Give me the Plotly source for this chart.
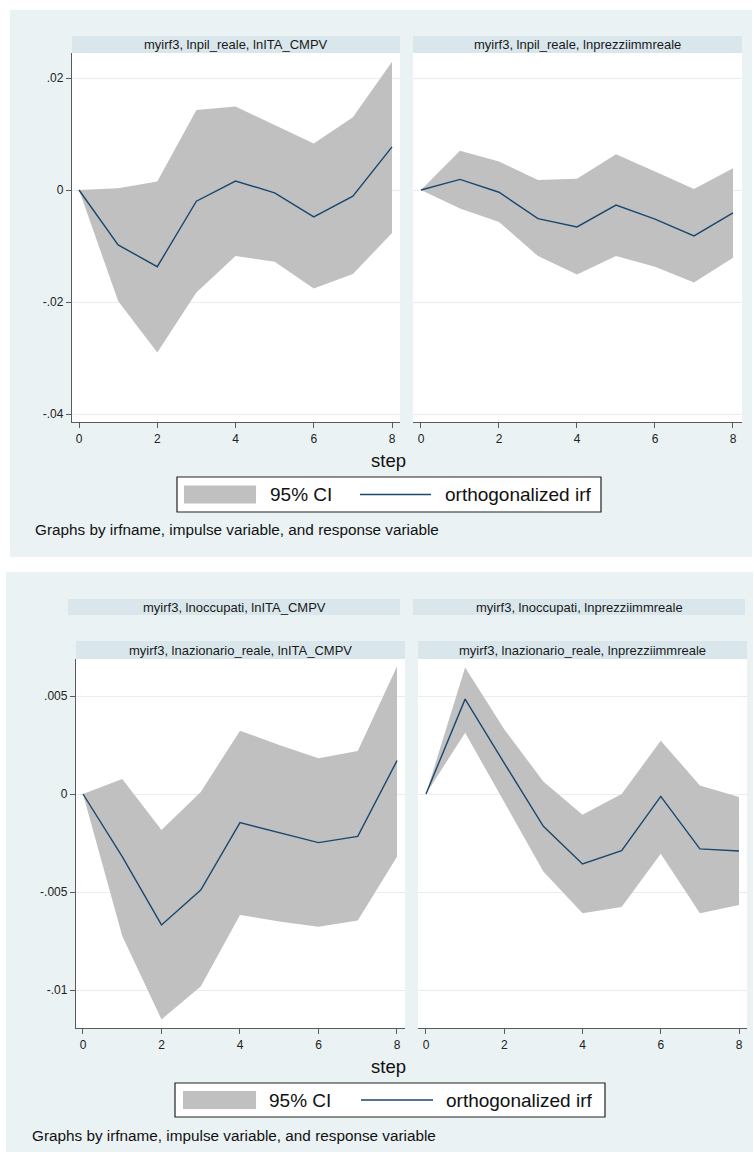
import plotly.graph_objects as go

W, H = 754, 1155
FONT = "Liberation Sans, Arial, sans-serif"

steps = [0, 1, 2, 3, 4, 5, 6, 7, 8]
x_ticks = [0, 2, 4, 6, 8]

# Graph 1 : impulse lnpil_reale
irf_pil_ita = [0, -0.0098, -0.0137, -0.0020, 0.0016, -0.0005, -0.0048, -0.0011, 0.0077]
up_pil_ita = [0, 0.0003, 0.0015, 0.0143, 0.0149, 0.0116, 0.0083, 0.0130, 0.0229]
lo_pil_ita = [0, -0.0198, -0.0290, -0.0183, -0.0118, -0.0128, -0.0176, -0.0150, -0.0077]

irf_pil_prz = [0, 0.0019, -0.0004, -0.0051, -0.0066, -0.0027, -0.0052, -0.0082, -0.0041]
up_pil_prz = [0, 0.0070, 0.0051, 0.0018, 0.0020, 0.0064, 0.0033, 0.0002, 0.0039]
lo_pil_prz = [0, -0.0033, -0.0057, -0.0118, -0.0151, -0.0118, -0.0137, -0.0165, -0.0121]

# Graph 2 : impulse lnazionario_reale
irf_az_ita = [0, -0.0032, -0.00668, -0.0049, -0.00146, -0.00196, -0.00248, -0.00216, 0.0017]
up_az_ita = [0, 0.00077, -0.00184, 0.0001, 0.00323, 0.0025, 0.00182, 0.0022, 0.0065]
lo_az_ita = [0, -0.00724, -0.0115, -0.00982, -0.00617, -0.0065, -0.00677, -0.00646, -0.0032]

irf_az_prz = [0, 0.00484, 0.00158, -0.00165, -0.00357, -0.00289, -0.00012, -0.0028, -0.00291]
up_az_prz = [0, 0.00646, 0.0033, 0.00064, -0.00106, 0.0, 0.00272, 0.00044, -0.00015]
lo_az_prz = [0, 0.00313, -0.0004, -0.00396, -0.00609, -0.00577, -0.00305, -0.00609, -0.00566]

top_yticks = [-0.04, -0.02, 0, 0.02]
top_yticktext = ["-.04", "-.02", "0", ".02"]
bot_yticks = [-0.01, -0.005, 0, 0.005]
bot_yticktext = ["-.01", "-.005", "0", ".005"]

strip_top = ["myirf3, lnpil_reale, lnITA_CMPV", "myirf3, lnpil_reale, lnprezziimmreale"]
strip_bot1 = ["myirf3, lnoccupati, lnITA_CMPV", "myirf3, lnoccupati, lnprezziimmreale"]
strip_bot2 = ["myirf3, lnazionario_reale, lnITA_CMPV", "myirf3, lnazionario_reale, lnprezziimmreale"]
legend_ci = "95% CI"
legend_irf = "orthogonalized irf"
note_text = "Graphs by irfname, impulse variable, and response variable"
x_title = "step"

BG = "#EAF2F3"
STRIP = "#D9E6EB"
GRID = "#E6EEF0"
CI = "#C0C0C0"
LINE = "#1A476F"
AX = "#5A5A5A"


def px(x):
    return x / W


def py(y):
    return 1 - y / H


fig = go.Figure()

panels = [
    ("x", "y", irf_pil_ita, up_pil_ita, lo_pil_ita),
    ("x2", "y2", irf_pil_prz, up_pil_prz, lo_pil_prz),
    ("x3", "y3", irf_az_ita, up_az_ita, lo_az_ita),
    ("x4", "y4", irf_az_prz, up_az_prz, lo_az_prz),
]
for xa, ya, irf, up, lo in panels:
    fig.add_trace(go.Scatter(
        x=steps + steps[::-1], y=up + lo[::-1], mode="lines",
        fill="toself", fillcolor=CI, line=dict(width=0, color=CI),
        xaxis=xa, yaxis=ya, showlegend=False, hoverinfo="skip"))
    fig.add_trace(go.Scatter(
        x=steps, y=irf, mode="lines", line=dict(color=LINE, width=1.4),
        xaxis=xa, yaxis=ya, showlegend=False))

tickfont = dict(family=FONT, size=12, color="#222222")


def xaxis(d0, d1, r0, r1, anchor):
    return dict(domain=[px(d0), px(d1)], range=[r0, r1], anchor=anchor,
                tickvals=x_ticks, ticktext=[str(t) for t in x_ticks],
                ticks="outside", ticklen=5, tickcolor=AX, tickwidth=1,
                showline=True, linecolor=AX, linewidth=1.3,
                showgrid=False, zeroline=False, tickfont=tickfont, fixedrange=True)


def yaxis(d0, d1, r0, r1, anchor, tv, tt, labels):
    return dict(domain=[py(d1), py(d0)], range=[r0, r1], anchor=anchor,
                tickvals=tv, ticktext=tt,
                ticks="outside" if labels else "", ticklen=5, tickcolor=AX, tickwidth=1,
                showticklabels=labels, showline=labels, linecolor=AX, linewidth=1.3,
                showgrid=True, gridcolor=GRID, gridwidth=1,
                zeroline=False, tickfont=tickfont, fixedrange=True)


top_r = ((190 - 53) / 5600.0, -(422 - 190) / 5600.0)
bot_r = ((794 - 659) / 19600.0, -(1028 - 794) / 19600.0)

fig.update_layout(
    xaxis=xaxis(72, 400, -0.179, 8.204, "y"),
    yaxis=yaxis(53, 422, top_r[1], top_r[0], "x", top_yticks, top_yticktext, True),
    xaxis2=xaxis(413, 742, -0.205, 8.231, "y2"),
    yaxis2=yaxis(53, 422, top_r[1], top_r[0], "x2", top_yticks, top_yticktext, False),
    xaxis3=xaxis(76, 405, -0.178, 8.204, "y3"),
    yaxis3=yaxis(659, 1028, bot_r[1], bot_r[0], "x3", bot_yticks, bot_yticktext, True),
    xaxis4=xaxis(418, 747, -0.204, 8.204, "y4"),
    yaxis4=yaxis(659, 1028, bot_r[1], bot_r[0], "x4", bot_yticks, bot_yticktext, False),
)

shapes = []


def rect(x0, y0, x1, y1, fill, line=None, lw=0, layer="below"):
    shapes.append(dict(type="rect", xref="paper", yref="paper",
                       x0=px(x0), x1=px(x1), y0=py(y1), y1=py(y0),
                       fillcolor=fill, line=dict(color=line or fill, width=lw),
                       layer=layer))


rect(10, 10, 752, 557, BG)
rect(6, 572, 753, 1152, BG)
for (a, b, c, d) in [(72, 53, 400, 422), (413, 53, 742, 422), (76, 659, 405, 1028), (418, 659, 747, 1028)]:
    rect(a, b, c, d, "white")
strip_boxes = [
    ((72, 36, 400, 53), strip_top[0]), ((413, 36, 742, 53), strip_top[1]),
    ((68, 599, 400, 615), strip_bot1[0]), ((413, 599, 745, 615), strip_bot1[1]),
    ((76, 641, 405, 659), strip_bot2[0]), ((418, 641, 747, 659), strip_bot2[1]),
]
annotations = []
for (a, b, c, d), t in strip_boxes:
    rect(a, b, c, d, STRIP)
    annotations.append(dict(x=px((a + c) / 2), y=py((b + d) / 2), xref="paper", yref="paper",
                            text=t, showarrow=False, xanchor="center", yanchor="middle",
                            font=dict(family=FONT, size=13, color="#1a1a1a")))

for (bx0, by0, bx1, by1, sx0, sx1, lx0, lx1, t1x, t2x) in [
        (177, 477, 601, 512, 184, 256, 360, 431, 268, 443),
        (175, 1083, 605, 1117, 183, 256, 361, 433, 267, 444)]:
    cy = (by0 + by1) / 2
    rect(bx0, by0, bx1, by1, "white", "#222222", 1.2, "above")
    rect(sx0, cy - 9, sx1, cy + 9, CI, layer="above")
    shapes.append(dict(type="line", xref="paper", yref="paper",
                       x0=px(lx0), x1=px(lx1), y0=py(cy), y1=py(cy),
                       line=dict(color=LINE, width=1.4), layer="above"))
    annotations.append(dict(x=px(t1x), y=py(cy), xref="paper", yref="paper", text=legend_ci,
                            showarrow=False, xanchor="left", yanchor="middle",
                            font=dict(family=FONT, size=19, color="#111111")))
    annotations.append(dict(x=px(t2x), y=py(cy), xref="paper", yref="paper", text=legend_irf,
                            showarrow=False, xanchor="left", yanchor="middle",
                            font=dict(family=FONT, size=19, color="#111111")))

for (tx, ty) in [(388.5, 460.5), (389, 1066)]:
    annotations.append(dict(x=px(tx), y=py(ty), xref="paper", yref="paper", text=x_title,
                            showarrow=False, xanchor="center", yanchor="middle",
                            font=dict(family=FONT, size=18.5, color="#111111")))
for (nx, ny) in [(33, 529), (30, 1135)]:
    annotations.append(dict(x=px(nx), y=py(ny), xref="paper", yref="paper", text=note_text,
                            showarrow=False, xanchor="left", yanchor="middle",
                            font=dict(family=FONT, size=15.3, color="#111111")))

fig.update_layout(
    width=W, height=H, margin=dict(l=0, r=0, t=0, b=0),
    paper_bgcolor="white", plot_bgcolor="white",
    shapes=shapes, annotations=annotations, showlegend=False,
    font=dict(family=FONT),
)

fig.write_html("out.html",
               config={"displayModeBar": False},
               post_script="document.body.style.margin='0';document.body.style.overflow='hidden';")
